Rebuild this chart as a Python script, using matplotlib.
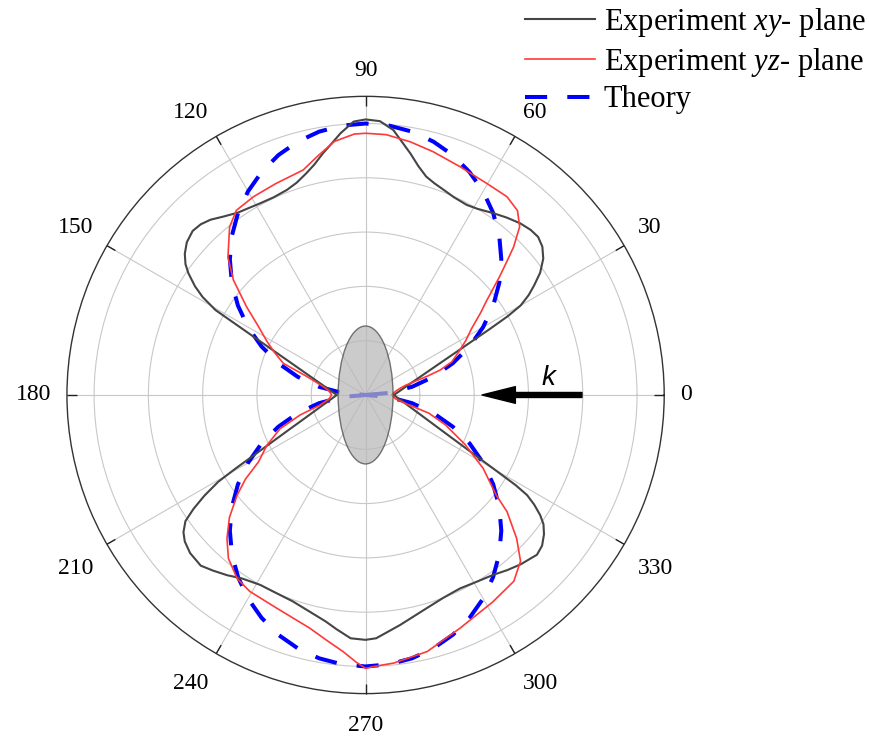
import numpy as np
import matplotlib.pyplot as plt
from matplotlib.patches import Ellipse

plt.rcParams['font.family'] = ['Liberation Serif', 'DejaVu Serif']
plt.rcParams['mathtext.fontset'] = 'custom'
plt.rcParams['mathtext.rm'] = 'Liberation Serif'
plt.rcParams['mathtext.it'] = 'Liberation Serif:italic'

# experiment, xy-plane: angle (deg) and normalised signal
xy_angle = [0, 5, 10, 15, 20, 23, 25, 27, 28, 29, 30, 31.5, 33, 35, 37.5, 40,
            42.5, 45, 48, 51.5, 55, 59, 62, 66, 69, 72, 74.5, 77, 79.5, 82, 84,
            87, 90,
            92.5, 95.5, 98, 100, 102.5, 105, 108, 111, 115, 119, 122, 125,
            128.5, 131.5, 134, 136.5, 139.5, 142, 144, 145.5, 147.5, 149, 150.5,
            151.5, 153, 155, 157, 160, 165, 170, 175, 180,
            185, 190, 195, 200, 203, 205, 207, 208.5, 209.5, 210.5, 212, 213.5,
            215, 217, 219, 222, 226, 229, 232.5, 236, 241, 245, 250.5, 255,
            260, 263, 266.5, 270,
            272.5, 278.5, 286, 291, 296, 300.5, 305.5, 309, 312.5, 317, 319.5,
            322, 324, 325.5, 327, 328.2, 329, 329.5, 330, 331, 332, 333, 335,
            337, 340, 345, 350, 355, 360]
xy_r = [0.104, 0.12, 0.142, 0.176, 0.235, 0.295, 0.357, 0.451, 0.52, 0.60, 0.66,
        0.705, 0.74, 0.785, 0.825, 0.85, 0.862, 0.86, 0.851, 0.835, 0.818, 0.80,
        0.793, 0.798, 0.808, 0.82, 0.835, 0.865, 0.905, 0.945, 0.981, 1.01, 1.015,
        1.008, 0.968, 0.93, 0.904, 0.87, 0.845, 0.822, 0.809, 0.803, 0.806, 0.812,
        0.82, 0.84, 0.862, 0.874, 0.878, 0.866, 0.845, 0.82, 0.792, 0.745, 0.70,
        0.635, 0.537, 0.437, 0.35, 0.292, 0.235, 0.178, 0.144, 0.122, 0.106,
        0.121, 0.142, 0.174, 0.226, 0.277, 0.327, 0.398, 0.477, 0.55, 0.63, 0.70,
        0.76, 0.81, 0.84, 0.857, 0.87, 0.874, 0.857, 0.837, 0.815, 0.80, 0.80,
        0.806, 0.822, 0.847, 0.87, 0.898, 0.902,
        0.897, 0.857, 0.817, 0.80, 0.793, 0.80, 0.813, 0.83, 0.846, 0.863, 0.855,
        0.834, 0.81, 0.78, 0.74, 0.70, 0.645, 0.592, 0.547, 0.474, 0.419, 0.375,
        0.31, 0.265, 0.218, 0.169, 0.139, 0.118, 0.104]

# experiment, yz-plane
yz_angle = [0, 4, 8, 11, 13.5, 15.5, 17, 18.5, 21, 25, 28.5, 32, 35.5, 38, 41.5,
            43.5, 45, 47.5, 50.5, 54.5, 60, 67.5, 74.5, 80, 85.5, 90,
            92.5, 97, 101.5, 105.5, 113, 119.5, 125, 129, 131.5, 135, 139, 143.5,
            147, 151.5, 155, 159, 162.5, 169, 174, 180,
            186, 192.5, 197, 201.5, 207, 212, 215, 218, 222, 226, 230, 235, 239.5,
            247.5, 256.5, 261, 265, 268, 270,
            272, 276, 283.5, 292, 301.5, 308.5, 313, 316.5, 320.5, 322.5, 328,
            333.5, 339.5, 344, 348, 353, 360]
yz_r = [0.098, 0.103, 0.115, 0.13, 0.15, 0.19, 0.24, 0.29, 0.34, 0.38, 0.42, 0.46,
        0.52, 0.567, 0.66, 0.72, 0.771, 0.84, 0.88, 0.897, 0.898, 0.91, 0.93,
        0.947, 0.962, 0.964,
        0.962, 0.941, 0.896, 0.86, 0.846, 0.839, 0.83, 0.796, 0.76, 0.717, 0.645,
        0.545, 0.475, 0.413, 0.37, 0.324, 0.227, 0.158, 0.135, 0.125,
        0.135, 0.172, 0.252, 0.338, 0.408, 0.465, 0.54, 0.601, 0.675, 0.735,
        0.786, 0.825, 0.84, 0.851, 0.883, 0.915, 0.949, 0.985, 1.007,
        1.0, 0.993, 0.972, 0.927, 0.895, 0.877, 0.837, 0.767, 0.675, 0.607, 0.511,
        0.41, 0.314, 0.242, 0.15, 0.11, 0.098]

# theory, every 5 deg
theory_angle = list(range(0, 361, 5))
theory_r = [0.000, 0.087, 0.174, 0.259, 0.342, 0.423, 0.500, 0.574, 0.643,
            0.707, 0.766, 0.819, 0.866, 0.906, 0.940, 0.966, 0.985, 0.996,
            1.000, 0.996, 0.985, 0.966, 0.940, 0.906, 0.866, 0.819, 0.766,
            0.707, 0.643, 0.574, 0.500, 0.423, 0.342, 0.259, 0.174, 0.087,
            0.000, 0.087, 0.174, 0.259, 0.342, 0.423, 0.500, 0.574, 0.643,
            0.707, 0.766, 0.819, 0.866, 0.906, 0.940, 0.966, 0.985, 0.996,
            1.000, 0.996, 0.985, 0.966, 0.940, 0.906, 0.866, 0.819, 0.766,
            0.707, 0.643, 0.574, 0.500, 0.423, 0.342, 0.259, 0.174, 0.087,
            0.000]

tick_angles = list(range(0, 360, 30))

fig = plt.figure(figsize=(8.7, 7.4), dpi=100)
ax = fig.add_axes([0.0769, 0.0627, 0.6866, 0.8071], projection='polar')

ax.plot(np.deg2rad(xy_angle), xy_r, color='#454545', lw=1.5,
        label='Experiment $xy$- plane', zorder=3)
ax.plot(np.deg2rad(yz_angle), yz_r, color='#ff3838', lw=1.2,
        label='Experiment $yz$- plane', zorder=3)
ax.plot(np.deg2rad(theory_angle), theory_r, color='#0000ff', lw=2.9,
        dashes=(5.5, 5), label='Theory', zorder=2)

# particle in the centre
ax.add_patch(Ellipse((0.5, 0.5), 0.092, 0.231, transform=ax.transAxes,
                     facecolor=(0.72, 0.72, 0.72), alpha=0.72,
                     edgecolor='#444444', lw=1, zorder=5))

# incident wave vector
ax.annotate('', xy=(0, 0.429), xytext=(0, 0.797),
            arrowprops=dict(facecolor='black', edgecolor='black', width=3.6,
                            headwidth=12, headlength=24, shrink=0), zorder=6)
ax.text(np.deg2rad(5.3), 0.675, 'k', family='Liberation Sans', style='italic',
        fontsize=20, ha='center', va='center', zorder=6)

ax.set_ylim(0, 1.1)
ax.set_rgrids([0.2, 0.4, 0.6, 0.8, 1.0], labels=[])
ax.set_thetagrids(tick_angles, labels=[])
ax.tick_params(axis='both', length=0)
ax.grid(color='#c8c8c8', lw=0.8)
ax.spines['polar'].set_color('#333333')
ax.spines['polar'].set_linewidth(1)

# short inward ticks on the outer circle
ax.vlines(np.deg2rad(tick_angles), 1.064, 1.1, color='#222222', lw=1,
          zorder=4, clip_on=False)

# angle labels, placed by their edge just outside the circle
for a in tick_angles:
    c, s = np.cos(np.deg2rad(a)), np.sin(np.deg2rad(a))
    ha = 'center' if abs(c) < 0.1 else ('left' if c > 0 else 'right')
    va = 'center' if abs(s) < 0.1 else ('bottom' if s > 0 else 'top')
    dy = -4.5 if s < -0.1 else 0
    ax.annotate(str(a), xy=(np.deg2rad(a), 1.157), xytext=(0, dy),
                textcoords='offset points', ha=ha, va=va, fontsize=17,
                annotation_clip=False)

fig.legend(loc='upper left', bbox_to_anchor=(525 / 870, 1 - 6 / 740),
           bbox_transform=fig.transFigure, frameon=False, fontsize=22,
           handlelength=2.3, handletextpad=0.27, labelspacing=0.22,
           borderpad=0, borderaxespad=0)

fig.savefig('out.png', dpi=100)
